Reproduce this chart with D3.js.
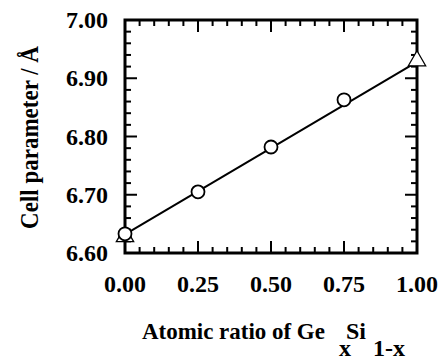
<!DOCTYPE html>
<html>
<head>
<meta charset="utf-8">
<script src="https://cdn.jsdelivr.net/npm/d3@7.9.0/dist/d3.min.js"></script>
<style>
  body { margin: 0; background: #fff; }
  svg { display: block; }
  svg text { font-family: "Liberation Serif", "Times New Roman", serif; font-weight: bold; }
</style>
</head>
<body>
<div id="viz"></div>
<script>
// data
const circleX = [0.00, 0.25, 0.50, 0.75];
const circleY = [6.633, 6.705, 6.782, 6.863];
const triangleX = [0.00, 1.00];
const triangleY = [6.628, 6.930];
const fitX = [0.00, 1.00];
const fitY = [6.632, 6.928];
const xTicks = [0, 0.25, 0.5, 0.75, 1];
const yTicks = [6.6, 6.7, 6.8, 6.9, 7.0];

const width = 439, height = 361;
const margin = {top: 20, right: 22, bottom: 108, left: 125};
const w = width - margin.left - margin.right;
const h = height - margin.top - margin.bottom;

const svg = d3.select("#viz").append("svg")
    .attr("width", width)
    .attr("height", height);

const g = svg.append("g")
    .attr("transform", `translate(${margin.left},${margin.top})`);

const x = d3.scaleLinear().domain([0, 1]).range([0, w]);
const y = d3.scaleLinear().domain([6.6, 7.0]).range([h, 0]);

// minor + major ticks, all pointing inward
const xMinor = d3.range(0, 1.0001, 0.05);
const yMinor = d3.range(6.6, 7.0001, 0.02);

function isMajor(v, step) {
    return Math.abs(v / step - Math.round(v / step)) < 1e-6;
}

const tickW = 2;
xMinor.forEach(v => {
    const len = isMajor(v, 0.25) ? 12 : 6;
    g.append("line").attr("x1", x(v)).attr("x2", x(v)).attr("y1", h).attr("y2", h - len)
        .attr("stroke", "#000").attr("stroke-width", tickW);
    g.append("line").attr("x1", x(v)).attr("x2", x(v)).attr("y1", 0).attr("y2", len)
        .attr("stroke", "#000").attr("stroke-width", tickW);
});
yMinor.forEach(v => {
    const len = isMajor(v - 6.6, 0.1) ? 12 : 6;
    g.append("line").attr("y1", y(v)).attr("y2", y(v)).attr("x1", 0).attr("x2", len)
        .attr("stroke", "#000").attr("stroke-width", tickW);
    g.append("line").attr("y1", y(v)).attr("y2", y(v)).attr("x1", w).attr("x2", w - len)
        .attr("stroke", "#000").attr("stroke-width", tickW);
});

// frame
g.append("rect")
    .attr("x", 0).attr("y", 0).attr("width", w).attr("height", h)
    .attr("fill", "none").attr("stroke", "#000").attr("stroke-width", 3);

// tick labels
g.selectAll(".xl").data(xTicks).join("text")
    .attr("x", d => x(d))
    .attr("y", h + 39)
    .attr("text-anchor", "middle")
    .attr("font-size", "24px")
    .text(d => d3.format(".2f")(d));

g.selectAll(".yl").data(yTicks).join("text")
    .attr("x", -17)
    .attr("y", d => y(d) + 8)
    .attr("text-anchor", "end")
    .attr("font-size", "24px")
    .text(d => d3.format(".2f")(d));

// fit line
const line = d3.line().x(d => x(d[0])).y(d => y(d[1]));
g.append("path")
    .datum(fitX.map((v, i) => [v, fitY[i]]))
    .attr("fill", "none")
    .attr("stroke", "#000")
    .attr("stroke-width", 2)
    .attr("d", line);

// triangles
const tri = d3.symbol().type(d3.symbolTriangle).size(130);
g.selectAll(".tri").data(triangleX.map((v, i) => [v, triangleY[i]])).join("path")
    .attr("transform", d => `translate(${x(d[0])},${y(d[1])})`)
    .attr("d", tri)
    .attr("fill", "#fff")
    .attr("stroke", "#000")
    .attr("stroke-width", 1.3);

// circles
g.selectAll(".circ").data(circleX.map((v, i) => [v, circleY[i]])).join("circle")
    .attr("cx", d => x(d[0]))
    .attr("cy", d => y(d[1]))
    .attr("r", 6.5)
    .attr("fill", "#fff")
    .attr("stroke", "#000")
    .attr("stroke-width", 1.8);

// axis titles - fitted to the length seen in the original
function stretch(sel, target) {
    const len = sel.node().getComputedTextLength();
    return len > 0 ? target / len : 1;
}

const yTitle = svg.append("text")
    .attr("text-anchor", "middle")
    .attr("font-size", "25px")
    .text("Cell parameter / Å");
const ys = stretch(yTitle, 183);
yTitle.attr("transform", `translate(38,${margin.top + h / 2 + 1}) rotate(-90) scale(${ys},1)`);

const xTitle = svg.append("text")
    .attr("font-size", "24px")
    .text("Atomic ratio of Ge");
const xs = stretch(xTitle, 183);
xTitle.attr("transform", `translate(142,339) scale(${xs},1)`);

svg.append("text").attr("x", 339).attr("y", 356).attr("font-size", "24px").text("x");
svg.append("text").attr("x", 346).attr("y", 339).attr("font-size", "24px").text("Si");
svg.append("text").attr("x", 373).attr("y", 356).attr("font-size", "24px").text("1-x");
</script>
</body>
</html>
